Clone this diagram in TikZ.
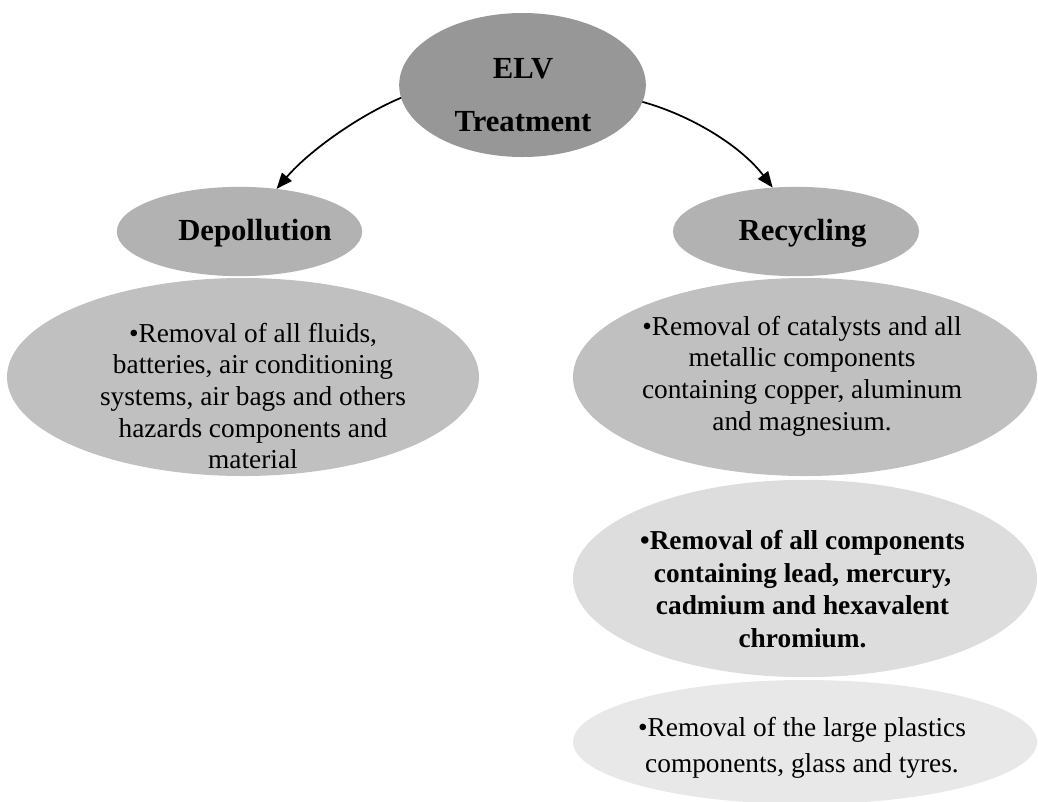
\documentclass[tikz,border=0pt]{standalone}
\definecolor{elvgray}{RGB}{151, 151, 151}
\definecolor{headgray}{RGB}{178, 178, 178}
\definecolor{stepgray}{RGB}{192, 192, 192}
\definecolor{leadgray}{RGB}{221, 221, 221}
\definecolor{plasticgray}{RGB}{232, 232, 232}
\usepackage{fontspec}
\setmainfont{Liberation Serif}
\usepackage{tikz}
\usetikzlibrary{shapes.geometric, arrows.meta}

\begin{document}
\begin{tikzpicture}[
      x=0.75pt, y=-0.75pt,
      bubble/.style={ellipse, draw=none, inner sep=0pt, outer sep=0pt},
      head/.style={font=\fontsize{23}{27.6}\selectfont\bfseries, align=center, inner sep=0pt},
      txt/.style={font=\fontsize{20.5}{23.7}\selectfont, align=center, inner sep=0pt},
      arrow/.style={-{Triangle[length=12pt, width=9.5pt]}, line width=1.3pt, black}
    ]
      \useasboundingbox (0,0) rectangle (1038,801);

      % ELV
      \node[bubble, fill=elvgray, minimum width=185pt, minimum height=108pt] (elv) at (522.5,85) {};
      \node[head] (elvtxt) at (523,95) {ELV\\[12pt]Treatment};

      % Depollution
      \node[bubble, fill=headgray, minimum width=184pt, minimum height=67pt] (dep) at (239.5,231.5) {};
      \node[head] (deptxt) at (255,233) {Depollution};
      \node[bubble, fill=stepgray, minimum width=354pt, minimum height=148.5pt] (depstep) at (243,377) {};
      \node[txt] (depsteptxt) at (253,396) {•Removal of all fluids,\\batteries, air conditioning\\systems, air bags and others\\hazards components and\\material};

      % Recycling
      \node[bubble, fill=headgray, minimum width=184.5pt, minimum height=67pt] (rec) at (796,231.5) {};
      \node[head] (rectxt) at (802.5,233) {Recycling};
      \node[bubble, fill=stepgray, minimum width=348pt, minimum height=148.5pt] (metal) at (805,377) {};
      \node[txt] (metaltxt) at (802,376) {•Removal of catalysts and all\\metallic components\\containing copper, aluminum\\and magnesium.};
      \node[bubble, fill=leadgray, minimum width=348pt, minimum height=148pt] (lead) at (805,578.5) {};
      \node[txt, font=\fontsize{20.5}{24.5}\selectfont\bfseries] (leadtxt) at (802.5,589) {•Removal of all components\\containing lead, mercury,\\cadmium and hexavalent\\chromium.};
      \node[bubble, fill=plasticgray, minimum width=348pt, minimum height=93pt] (plastic) at (805,742) {};
      \node[txt, font=\fontsize{20.5}{27}\selectfont] (plastictxt) at (802,748) {•Removal of the large plastics\\components, glass and tyres.};

      % Arrows
      \draw[arrow] (elv.186.6) .. controls (360,115) and (310,150) .. (dep.49.5);
      \draw[arrow] (elv.352.9) .. controls (690,115) and (740,145) .. (rec.118.9);
    \end{tikzpicture}
\end{document}
